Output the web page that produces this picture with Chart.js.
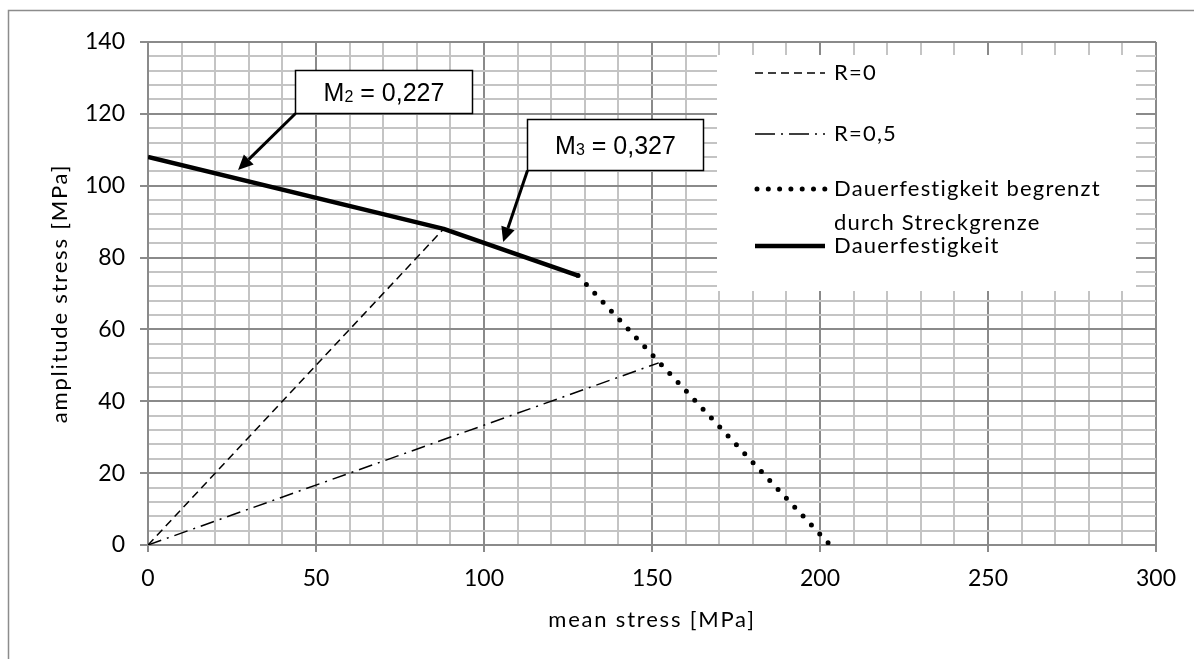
<!DOCTYPE html>
<html><head><meta charset="utf-8">
<script src="https://cdn.jsdelivr.net/npm/chart.js@4"></script>
<style>html,body{margin:0;padding:0;background:#fff}canvas{display:block}</style>
</head><body>
<canvas id="c" width="1194" height="659"></canvas>
<script>
// ---- data ----
const seriesNames = ['R=0', 'R=0,5', 'Dauerfestigkeit begrenzt|durch Streckgrenze', 'Dauerfestigkeit'];
const r0X = [0, 88];
const r0Y = [0, 88];
const r05X = [0, 152];
const r05Y = [0, 50.7];
const yieldX = [128, 203];
const yieldY = [75, 0];
const durX = [0, 88, 128];
const durY = [108, 88, 75];
const xTickLabels = [0, 50, 100, 150, 200, 250, 300];
const yTickLabels = [0, 20, 40, 60, 80, 100, 120, 140];
const xTitle = 'mean stress [MPa]';
const yTitle = 'amplitude stress [MPa]';
const annoLabels = [['M', '2', ' = 0,227'], ['M', '3', ' = 0,327']];
const annoPointsAt = [[26.8, 104.4], [105.7, 84.3]];

// ---- layout / styles ----
const annoLayout = [
  {box: [43.8, 132.2, 96.4, 120.1]},
  {box: [112.8, 118.6, 165.2, 104.4]}
];
const MAJOR = '#8a8a8a', MINOR = '#c4c4c4';
const pts = (xs, ys) => xs.map((x, i) => ({x, y: ys[i]}));

const dsStyles = [
  {borderWidth: 1.5, borderDash: [8, 5]},
  {borderWidth: 1.5, borderDash: [14, 6, 2, 6]},
  {borderWidth: 5, borderDash: [0, 12.2], borderCapStyle: 'round'},
  {borderWidth: 4.5, borderJoinStyle: 'round'}
];
const dsData = [pts(r0X, r0Y), pts(r05X, r05Y), pts(yieldX, yieldY), pts(durX, durY)];

const datasets = dsData.map((d, i) => Object.assign({
  label: seriesNames[i].replace('|', ' '),
  data: d, showLine: true, pointRadius: 0, borderColor: '#000', backgroundColor: '#000', fill: false, tension: 0
}, dsStyles[i]));

const frame = {
  id: 'frame',
  beforeDraw(chart) {
    const c = chart.ctx;
    c.save();
    c.fillStyle = '#fff'; c.fillRect(0, 0, chart.width, chart.height);
    c.strokeStyle = '#8c8c8c'; c.lineWidth = 1.5;
    c.strokeRect(8.5, 10.5, 1200, 670);
    c.restore();
  },
  afterDraw(chart) {
    const c = chart.ctx, a = chart.chartArea;
    c.save();
    c.fillStyle = '#000';
    c.font = '22px Lato';
    c.letterSpacing = '1.8px';
    c.textAlign = 'center';
    c.textBaseline = 'middle';
    c.fillText(xTitle, (a.left + a.right) / 2, 620);
    c.translate(60, (a.top + a.bottom) / 2);
    c.rotate(-Math.PI / 2);
    c.fillText(yTitle, 0, 0);
    c.restore();
  }
};

const legendPlugin = {
  id: 'customLegend',
  afterDatasetsDraw(chart) {
    const c = chart.ctx;
    c.save();
    c.fillStyle = '#fff';
    c.fillRect(717, 55, 419, 236);
    const rows = [73, 134, 189, 246];
    c.font = '22px Lato';
    c.letterSpacing = '1.2px';
    c.textBaseline = 'middle';
    rows.forEach((y, i) => {
      const st = dsStyles[i];
      c.beginPath();
      c.strokeStyle = '#000';
      c.lineWidth = st.borderWidth;
      c.setLineDash(i === 2 ? [0, 11.3] : (i === 1 ? [20, 6, 2, 6] : (st.borderDash || [])));
      c.lineCap = st.borderCapStyle || 'butt';
      c.moveTo(i === 2 ? 757 : 755, y); c.lineTo(825, y);
      c.stroke();
      c.setLineDash([]);
      c.fillStyle = '#000';
      const parts = seriesNames[i].split('|');
      parts.forEach((p, k) => c.fillText(p, 834, y + k * 34));
    });
    c.restore();
  }
};

const annoPlugin = {
  id: 'anno',
  afterDatasetsDraw(chart) {
    const c = chart.ctx, xs = chart.scales.x, ys = chart.scales.y;
    c.save();
    annoLayout.forEach((a, i) => {
      const x1 = Math.round(xs.getPixelForValue(a.box[0])) + 0.5;
      const y1 = Math.round(ys.getPixelForValue(a.box[1])) + 0.5;
      const x2 = Math.round(xs.getPixelForValue(a.box[2])) + 0.5;
      const y2 = Math.round(ys.getPixelForValue(a.box[3])) + 0.5;
      // arrow
      const tx = xs.getPixelForValue(annoPointsAt[i][0]);
      const ty = ys.getPixelForValue(annoPointsAt[i][1]);
      const ang = Math.atan2(ty - y2, tx - x1);
      const hl = 15, hw = 7;
      const bx = tx - hl * Math.cos(ang), by = ty - hl * Math.sin(ang);
      c.strokeStyle = '#000'; c.lineWidth = 3;
      c.beginPath(); c.moveTo(x1, y2); c.lineTo(bx, by); c.stroke();
      c.fillStyle = '#000';
      c.beginPath();
      c.moveTo(tx, ty);
      c.lineTo(bx + hw * Math.sin(ang), by - hw * Math.cos(ang));
      c.lineTo(bx - hw * Math.sin(ang), by + hw * Math.cos(ang));
      c.closePath(); c.fill();
      // box
      c.fillStyle = '#fff';
      c.fillRect(x1, y1, x2 - x1, y2 - y1);
      c.lineWidth = 1.5; c.strokeStyle = '#000';
      c.strokeRect(x1, y1, x2 - x1, y2 - y1);
      // text
      const [m, sub, rest] = annoLabels[i];
      c.fillStyle = '#000';
      c.textBaseline = 'alphabetic';
      c.font = '25px "Liberation Sans"';
      const wM = c.measureText(m).width;
      c.font = '16px "Liberation Sans"';
      const wS = c.measureText(sub).width;
      c.font = '25px "Liberation Sans"';
      const wR = c.measureText(rest).width;
      const total = wM + wS + wR;
      let sx = (x1 + x2) / 2 - total / 2;
      const base = (y1 + y2) / 2 + 9;
      c.fillText(m, sx, base);
      c.font = '16px "Liberation Sans"';
      c.fillText(sub, sx + wM, base + 1);
      c.font = '25px "Liberation Sans"';
      c.fillText(rest, sx + wM + wS, base);
    });
    c.restore();
  }
};

const isMajorX = v => Math.round(v) % 50 === 0;
const isMajorY = v => Math.round(v) % 20 === 0;

new Chart(document.getElementById('c'), {
  type: 'scatter',
  data: {datasets},
  options: {
    responsive: false,
    devicePixelRatio: 1,
    animation: false,
    layout: {padding: {left: 10, right: 38, top: 42, bottom: 10}},
    plugins: {legend: {display: false}, tooltip: {enabled: false}},
    scales: {
      x: {
        type: 'linear', min: 0, max: 300,
        afterFit(s) { s.height = 104; },
        ticks: {
          stepSize: 10, autoSkip: false, maxRotation: 0, padding: 13,
          color: '#000', font: {family: 'Lato', size: 23},
          callback: v => xTickLabels.includes(Math.round(v)) ? String(Math.round(v)) : ''
        },
        grid: {
          color: ctx => isMajorX(ctx.tick.value) ? MAJOR : MINOR,
          tickColor: ctx => isMajorX(ctx.tick.value) ? MAJOR : 'rgba(0,0,0,0)',
          lineWidth: 2, tickLength: 7, tickWidth: 2
        },
        border: {display: true, color: MAJOR, width: 2},
        title: {display: false}
      },
      y: {
        type: 'linear', min: 0, max: 140,
        afterFit(s) { s.width = 138; },
        ticks: {
          stepSize: 4, autoSkip: false, padding: 15,
          color: '#000', font: {family: 'Lato', size: 23},
          callback: v => yTickLabels.includes(Math.round(v)) && Math.abs(v - Math.round(v)) < 1e-6 ? String(Math.round(v)) : ''
        },
        grid: {
          color: ctx => isMajorY(ctx.tick.value) ? MAJOR : MINOR,
          tickColor: ctx => isMajorY(ctx.tick.value) ? MAJOR : 'rgba(0,0,0,0)',
          lineWidth: 2, tickLength: 8, tickWidth: 2
        },
        border: {display: true, color: MAJOR, width: 2},
        title: {display: false}
      }
    }
  },
  plugins: [frame, legendPlugin, annoPlugin]
});
</script>
</body></html>
